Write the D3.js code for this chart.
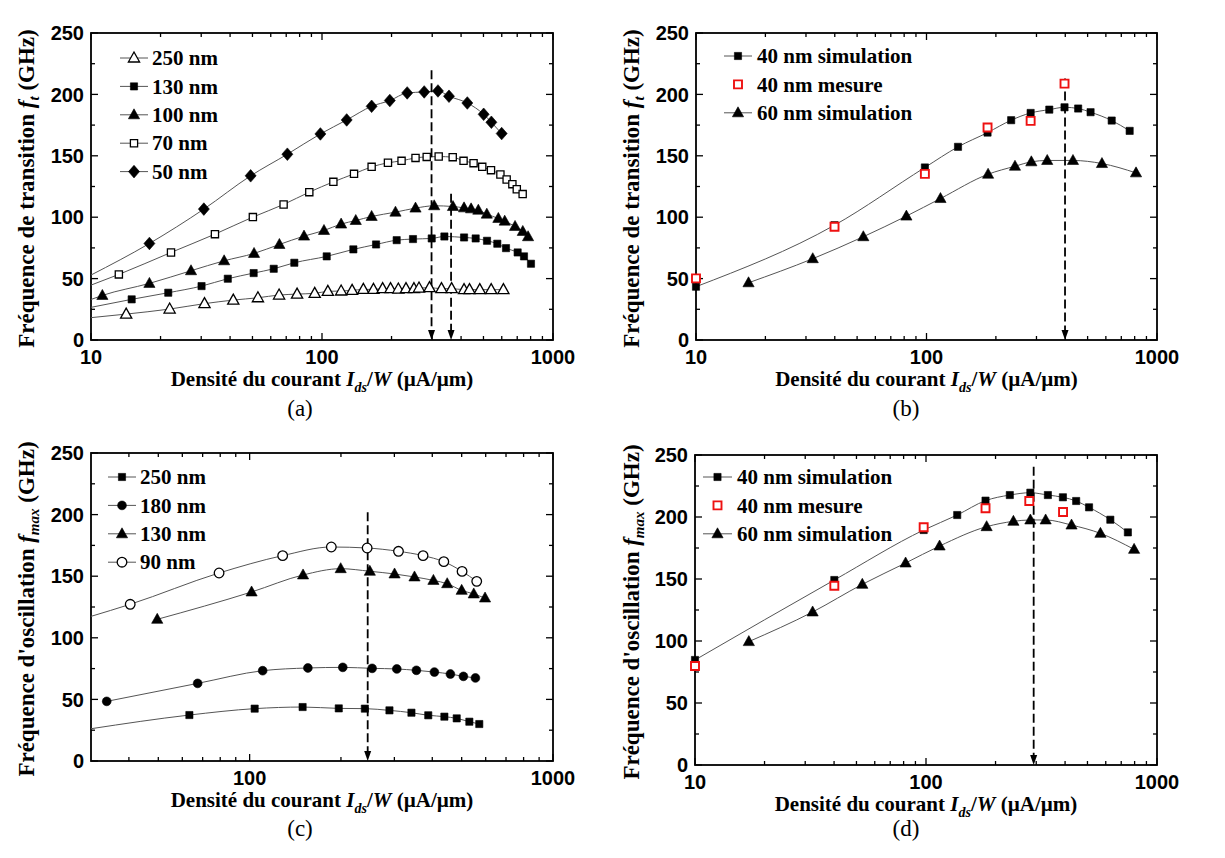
<!DOCTYPE html>
<html><head><meta charset="utf-8">
<script src="https://cdn.jsdelivr.net/npm/d3@7"></script>
<style>body{margin:0;background:#fff}</style>
</head><body>
<svg id="chart" width="1225" height="858"></svg>
<script>
// ---------- DATA ----------
const yTickValues = [0, 50, 100, 150, 200, 250];
const xTickLabelsAB = [10, 100, 1000];
const xTickLabelsC = [100, 1000];

// (a) fT vs Ids/W
const a250x = [14.2,21.9,31.0,41.3,52.8,65.2,78,93,106,121,135,151,167,183,198,214,231,250,263,292,329,364,412,435,482,540,610];
const a250y = [21.1,25.2,29.6,32.5,34.4,36.6,37.4,38,39.6,39.9,40.4,41.2,41.2,41.8,41.8,41.5,41.8,41.8,42.3,42.6,41.8,41.8,41,41,41,41,41];
const a130x = [15.0,21.6,30.1,39.1,50.6,61.8,75.9,104.8,136.7,171.4,210.5,247.7,298.5,338.7,412.1,462.6,518,574,626,703,749,803];
const a130y = [33.1,38.5,43.9,49.9,54.5,58,62.9,68.1,73.8,77.8,81.3,82.2,82.7,84.3,83.5,82.7,80.8,78.4,74.8,71.3,68.1,62.1];
const a100x = [11.2,17.9,27.1,37.7,50.8,65.4,83.6,102,121,140,164,208,254,306,369,412,442,475,517,580,618,685,740,780];
const a100y = [36.3,46.1,56.4,64.5,70.5,77.8,84.6,89.2,94.4,97.3,100.6,104.1,107.4,109.3,108.7,107.6,106.8,105.7,102.5,99,96.8,92.5,88.4,84.1];
const a70x = [13.2,22.2,34.4,50.2,68.2,88.1,112,137.6,164,193,221,254,284,320,368,410,453,494,539,592,630,667,697,739];
const a70y = [53.4,71.3,86.2,100.1,110.4,120.4,128.8,135.3,141,144.3,145.9,148.3,149.1,149.4,148.9,145.9,144,141,138.3,134.8,130.7,126.9,122.8,118.8];
const a50x = [17.9,30.8,49.1,70.8,98.4,127.9,164,196.6,233.8,277,317.7,354.6,425.7,501,541,599.5];
const a50y = [78.6,106.6,133.7,151.3,167.8,179.2,190.3,195,201.2,202,202.8,198.5,193,183.8,177.3,168.1];
// fitted-line values at the left edge (x = 10)
const aLineStart = {"250 nm": 18.2, "130 nm": 26.6, "100 nm": 33, "70 nm": 44.7, "50 nm": 52.9};
const aArrows = [[298, 219.6], [362, 119]];

// (b) fT, 40/60 nm
const b40sx = [10,39.9,98.4,137,184,233,283,341,397,455,515,636,761];
const b40sy = [43.4,93.5,140.5,157.3,168.9,179,184.9,187.6,189.5,188.5,185.5,178.7,170.3];
const b40mx = [10,39.9,98.4,184,283,397];
const b40my = [50.2,92.2,135.3,173,178.4,208.8];
const b60sx = [16.9,32.1,53.2,81.8,115,185,242,285,334,432,577,811];
const b60sy = [46.6,66.2,84.1,100.9,115.2,135,141.5,145.1,146.2,146.2,143.7,136.1];
const bArrows = [[399, 213]];

// (c) fmax vs Ids/W
const c90x = [40.4,79.3,128.5,185.9,244,309.5,373,436.6,501.5,560.5];
const c90y = [127.2,152.6,166.7,173.7,172.9,170.2,166.7,161.8,153.9,145.8];
const c130x = [49.6,101.5,150,199.6,249,300.4,349.5,403.5,448,500,548,597];
const c130y = [115,137.2,151,156.1,154,151.8,149.4,146.6,143.9,138.5,135.6,132.3];
const c180x = [33.8,67.4,110.4,155.6,202.8,253.4,305.6,354.6,406.5,459,506.7,555];
const c180y = [48.4,63,73.3,75.5,76,75.2,74.7,73.6,72.2,70.6,68.7,67.4];
const c250x = [63.3,103.9,149.5,196.7,239.8,289,341.5,388,438.5,481.5,530,571.5];
const c250y = [37.3,42.5,43.8,42.7,42.5,41.1,39.2,37.1,36,34.6,31.9,30];
const cLineStart = {"90 nm": 117.4, "250 nm": 26.2};  // at x = 30
const cArrows = [[245, 202]];

// (d) fmax, 40/60 nm
const d40sx = [10,40.1,97.7,136.5,181,230.6,283,337,391.5,446.8,508,628,748];
const d40sy = [84.7,149.2,189.5,201.6,213.2,217.7,219.6,217.7,215.9,212.9,207.8,197.8,187.6];
const d40mx = [10,40.1,97.7,181,280,392];
const d40my = [79.8,144.6,191.7,207,212.9,204];
const d60sx = [17.1,32.3,53,81.6,114.5,183,239,283,329.6,426.6,569,796];
const d60sy = [99.5,123.4,145.7,162.9,176.6,192.2,196.5,197.6,197.6,193.5,186.8,173.9];
const dArrows = [[292.5, 240.6]];

// ---------- DRAWING ----------
const svg = d3.select("#chart");
const SERIF = "'Liberation Serif','Times New Roman',serif";
const SANS = "'Liberation Sans',Arial,sans-serif";

function markerPath(type) {
  const p = d3.path();
  if (type === "square") { const h = 3.6; p.rect(-h, -h, 2*h, 2*h); }
  else if (type === "msquare") { const h = 4; p.rect(-h, -h, 2*h, 2*h); }
  else if (type === "triangle") { p.moveTo(0, -6); p.lineTo(5.6, 4); p.lineTo(-5.6, 4); p.closePath(); }
  else if (type === "diamond") { p.moveTo(0, -6.3); p.lineTo(5.5, 0); p.lineTo(0, 6.3); p.lineTo(-5.5, 0); p.closePath(); }
  else if (type === "circle") { p.arc(0, 0, 4.4, 0, 2*Math.PI); }
  else if (type === "ocircle") { p.arc(0, 0, 4.8, 0, 2*Math.PI); }
  return p.toString();
}
function styleMarker(sel, s) {
  if (s.kind === "open") sel.attr("fill", "#fff").attr("stroke", "#000").attr("stroke-width", 1.3);
  else if (s.kind === "red") sel.attr("fill", "#fff").attr("stroke", "#ee1111").attr("stroke-width", 1.9);
  else sel.attr("fill", "#000").attr("stroke", "#000").attr("stroke-width", 0.6);
}

function drawPanel(P) {
  const g = svg.append("g");
  const x = d3.scaleLog().domain(P.xDomain).range([P.l, P.r]);
  const y = d3.scaleLinear().domain([0, 250]).range([P.b, P.t]);

  // minor and major ticks (inward, all four sides)
  const lo = Math.log10(P.xDomain[0]), hi = Math.log10(P.xDomain[1]);
  const xMinor = [];
  for (let e = Math.floor(lo); e < hi; e++) for (let k = 2; k <= 9; k++) {
    const v = k * Math.pow(10, e);
    if (v > P.xDomain[0] && v < P.xDomain[1]) xMinor.push(v);
  }
  const xMajor = [10, 100, 1000].filter(v => v >= P.xDomain[0] && v <= P.xDomain[1]);
  const yMinor = [25, 75, 125, 175, 225];
  const tk = g.append("g").attr("stroke", "#000").attr("stroke-width", 1.3);
  xMinor.forEach(v => {
    tk.append("line").attr("x1", x(v)).attr("x2", x(v)).attr("y1", P.b).attr("y2", P.b - 4);
    tk.append("line").attr("x1", x(v)).attr("x2", x(v)).attr("y1", P.t).attr("y2", P.t + 4);
  });
  xMajor.forEach(v => {
    tk.append("line").attr("x1", x(v)).attr("x2", x(v)).attr("y1", P.b).attr("y2", P.b - 7);
    tk.append("line").attr("x1", x(v)).attr("x2", x(v)).attr("y1", P.t).attr("y2", P.t + 7);
  });
  yMinor.forEach(v => {
    tk.append("line").attr("x1", P.l).attr("x2", P.l + 4).attr("y1", y(v)).attr("y2", y(v));
    tk.append("line").attr("x1", P.r).attr("x2", P.r - 4).attr("y1", y(v)).attr("y2", y(v));
  });
  yTickValues.forEach(v => {
    tk.append("line").attr("x1", P.l).attr("x2", P.l + 7).attr("y1", y(v)).attr("y2", y(v));
    tk.append("line").attr("x1", P.r).attr("x2", P.r - 7).attr("y1", y(v)).attr("y2", y(v));
  });

  // frame
  g.append("rect").attr("x", P.l).attr("y", P.t).attr("width", P.r - P.l).attr("height", P.b - P.t)
    .attr("fill", "none").attr("stroke", "#000").attr("stroke-width", 1.8);

  // tick labels
  g.append("g").selectAll("text").data(P.xLabels).join("text")
    .attr("x", d => x(d)).attr("y", P.b + 24).attr("text-anchor", "middle")
    .attr("font-family", SANS).attr("font-weight", "bold").attr("font-size", 20).text(d => d);
  g.append("g").selectAll("text").data(yTickValues).join("text")
    .attr("x", P.l - 7).attr("y", d => y(d)).attr("dy", "0.36em").attr("text-anchor", "end")
    .attr("font-family", SANS).attr("font-weight", "bold").attr("font-size", 20).text(d => d);

  // series lines
  const line = d3.line().x(d => x(d[0])).y(d => y(d[1])).curve(d3.curveMonotoneX);
  P.series.forEach(s => {
    if (!s.line) return;
    let pts = s.xs.map((v, i) => [v, s.ys[i]]);
    if (s.start != null) pts = [[P.xDomain[0], s.start]].concat(pts);
    g.append("path").attr("d", line(pts)).attr("fill", "none").attr("stroke", "#555").attr("stroke-width", 1);
  });

  // arrows
  P.arrows.forEach(([ax, ay]) => {
    g.append("line").attr("x1", x(ax)).attr("x2", x(ax)).attr("y1", y(ay)).attr("y2", P.b - 9)
      .attr("stroke", "#000").attr("stroke-width", 1.8).attr("stroke-dasharray", "9,4");
    g.append("path").attr("d", `M${x(ax)-3.5},${P.b-10}L${x(ax)+3.5},${P.b-10}L${x(ax)},${P.b}Z`).attr("fill", "#000");
  });

  // markers
  P.series.forEach(s => {
    const m = g.append("g").selectAll("path").data(s.xs.map((v, i) => [v, s.ys[i]])).join("path")
      .attr("d", markerPath(s.shape)).attr("transform", d => `translate(${x(d[0])},${y(d[1])})`);
    styleMarker(m, s);
  });

  // legend
  P.series.forEach((s, i) => {
    const ly = P.leg.y + i * P.leg.dy;
    if (s.line) g.append("line").attr("x1", P.leg.x0).attr("x2", P.leg.x1).attr("y1", ly).attr("y2", ly)
      .attr("stroke", "#555").attr("stroke-width", 1);
    const m = g.append("path").attr("d", markerPath(s.shape))
      .attr("transform", `translate(${(P.leg.x0 + P.leg.x1) / 2},${ly})`);
    styleMarker(m, s);
    g.append("text").attr("x", P.leg.tx).attr("y", ly).attr("dy", "0.34em")
      .attr("font-family", SERIF).attr("font-weight", "bold").attr("font-size", 21).text(s.name);
  });

  // x title
  const xt = g.append("text").attr("x", (P.l + P.r) / 2).attr("y", P.b + 46).attr("text-anchor", "middle")
    .attr("font-family", SERIF).attr("font-weight", "bold").attr("font-size", 21);
  xt.append("tspan").text("Densité du courant ");
  xt.append("tspan").attr("font-style", "italic").text("I");
  xt.append("tspan").attr("font-style", "italic").attr("font-size", 14).attr("dy", 6).text("ds");
  xt.append("tspan").attr("dy", -6).text("/");
  xt.append("tspan").attr("font-style", "italic").text("W");
  xt.append("tspan").text(" (µA/µm)");

  // y title
  const yt = g.append("text").attr("transform", `translate(${P.ytx},${(P.t + P.b) / 2 + 2}) rotate(-90)`)
    .attr("text-anchor", "middle").attr("font-family", SERIF).attr("font-weight", "bold").attr("font-size", 23);
  yt.append("tspan").text(P.ytMain);
  yt.append("tspan").attr("font-style", "italic").text("f");
  yt.append("tspan").attr("font-style", "italic").attr("font-size", 15).attr("dy", 5).text(P.ytSub);
  yt.append("tspan").attr("dy", -5).text(" (GHz)");

  // panel label
  svg.append("text").attr("x", P.labX).attr("y", P.labY).attr("text-anchor", "middle")
    .attr("font-family", SERIF).attr("font-size", 23).text(P.label);
}

const ftMain = "Fréquence de transition ";
const fmMain = "Fréquence d'oscillation ";

drawPanel({
  l: 91, r: 553, t: 33, b: 340, xDomain: [10, 1000], xLabels: xTickLabelsAB,
  series: [
    {name: "250 nm", xs: a250x, ys: a250y, start: aLineStart["250 nm"], shape: "triangle", kind: "open", line: true},
    {name: "130 nm", xs: a130x, ys: a130y, start: aLineStart["130 nm"], shape: "square", kind: "solid", line: true},
    {name: "100 nm", xs: a100x, ys: a100y, start: aLineStart["100 nm"], shape: "triangle", kind: "solid", line: true},
    {name: "70 nm", xs: a70x, ys: a70y, start: aLineStart["70 nm"], shape: "square", kind: "open", line: true},
    {name: "50 nm", xs: a50x, ys: a50y, start: aLineStart["50 nm"], shape: "diamond", kind: "solid", line: true}
  ],
  leg: {y: 58, dy: 28.4, x0: 120, x1: 148, tx: 152},
  arrows: aArrows, ytx: 34, ytMain: ftMain, ytSub: "t", label: "(a)", labX: 300, labY: 416
});

drawPanel({
  l: 696, r: 1157, t: 33, b: 340, xDomain: [10, 1000], xLabels: xTickLabelsAB,
  series: [
    {name: "40 nm simulation", xs: b40sx, ys: b40sy, start: null, shape: "square", kind: "solid", line: true},
    {name: "40 nm mesure", xs: b40mx, ys: b40my, start: null, shape: "msquare", kind: "red", line: false},
    {name: "60 nm simulation", xs: b60sx, ys: b60sy, start: null, shape: "triangle", kind: "solid", line: true}
  ],
  leg: {y: 56, dy: 28.4, x0: 724, x1: 752, tx: 757},
  arrows: bArrows, ytx: 639, ytMain: ftMain, ytSub: "t", label: "(b)", labX: 906, labY: 416
});

drawPanel({
  l: 91, r: 553, t: 453, b: 761, xDomain: [30, 1000], xLabels: xTickLabelsC,
  series: [
    {name: "250 nm", xs: c250x, ys: c250y, start: cLineStart["250 nm"], shape: "square", kind: "solid", line: true},
    {name: "180 nm", xs: c180x, ys: c180y, start: null, shape: "circle", kind: "solid", line: true},
    {name: "130 nm", xs: c130x, ys: c130y, start: null, shape: "triangle", kind: "solid", line: true},
    {name: "90 nm", xs: c90x, ys: c90y, start: cLineStart["90 nm"], shape: "ocircle", kind: "open", line: true}
  ],
  leg: {y: 477, dy: 28.4, x0: 108, x1: 136, tx: 140},
  arrows: cArrows, ytx: 34, ytMain: fmMain, ytSub: "max", label: "(c)", labX: 300, labY: 836
});

drawPanel({
  l: 695, r: 1157, t: 455, b: 765, xDomain: [10, 1000], xLabels: xTickLabelsAB,
  series: [
    {name: "40 nm simulation", xs: d40sx, ys: d40sy, start: null, shape: "square", kind: "solid", line: true},
    {name: "40 nm mesure", xs: d40mx, ys: d40my, start: null, shape: "msquare", kind: "red", line: false},
    {name: "60 nm simulation", xs: d60sx, ys: d60sy, start: null, shape: "triangle", kind: "solid", line: true}
  ],
  leg: {y: 477, dy: 28.4, x0: 703, x1: 732, tx: 737},
  arrows: dArrows, ytx: 639, ytMain: fmMain, ytSub: "max", label: "(d)", labX: 906, labY: 836
});
</script>
</body></html>
